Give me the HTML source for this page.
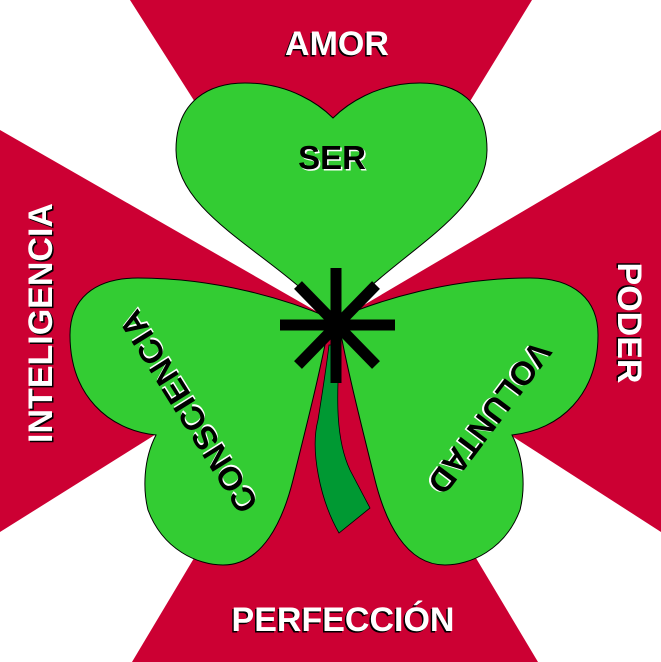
<!DOCTYPE html>
<html><head><meta charset="utf-8"><style>
html,body{margin:0;padding:0;background:#fff;}
svg{display:block;}
text{font-family:"Liberation Sans",Arial,sans-serif;font-weight:bold;}
</style></head><body>
<svg width="661" height="662" viewBox="0 0 661 662" xmlns="http://www.w3.org/2000/svg">
<rect width="661" height="662" fill="#cc0033"/>
<polygon points="0,0 130,0 335,322 0,130" fill="#fff"/>
<polygon points="661,0 532,0 335,322 661,130" fill="#fff"/>
<polygon points="0,662 0,532 335,322 132,662" fill="#fff"/>
<polygon points="661,662 661,532 335,322 538,662" fill="#fff"/>
<g fill="#33cc33" stroke="#000" stroke-width="1">
<path d="M335,325 C290,260 176,220 176,150 C176,100 210,83 245,83 C290,83 320,105 333,118 C346,105 376,83 420,83 C455,83 487,100 487,150 C487,220 380,260 335,325 Z"/>
<path d="M338,318 C380,300 450,278 530,278 C575,278 598,300 598,335 C598,395 560,430 512,435 C525,460 525,490 520,510 C505,550 470,565 445,565 C405,565 385,520 375,480 C360,420 345,360 338,318 Z"/>
<path transform="translate(668,0) scale(-1,1)" d="M338,318 C380,300 450,278 530,278 C575,278 598,300 598,335 C598,395 560,430 512,435 C525,460 525,490 520,510 C505,550 470,565 445,565 C405,565 385,520 375,480 C360,420 345,360 338,318 Z"/>
</g>
<path d="M329,345 L340,345 C336,400 336,440 350,470 L370,508 L339,533 C320,500 310,450 318,420 C322,395 326,370 329,345 Z" fill="#009933" stroke="#000" stroke-width="0.8"/>
<g stroke="#000" stroke-width="11">
<line x1="336" y1="268" x2="336" y2="383"/>
<line x1="280" y1="325" x2="395" y2="325"/>
<line x1="298" y1="285" x2="376" y2="365"/>
<line x1="376" y1="285" x2="298" y2="365"/>
</g>
<g font-size="34">
<text x="337" y="55" text-anchor="middle" fill="#000" transform="translate(-1.5,1.5)">AMOR</text>
<text x="337" y="55" text-anchor="middle" fill="#fff">AMOR</text>
<text x="343" y="631" text-anchor="middle" fill="#000" transform="translate(-1.5,1.5)">PERFECCIÓN</text>
<text x="343" y="631" text-anchor="middle" fill="#fff">PERFECCIÓN</text>
<g transform="translate(52,323) rotate(-90)"><text x="0" y="0" text-anchor="middle" fill="#000" transform="translate(-1.5,1.5)">INTELIGENCIA</text><text x="0" y="0" text-anchor="middle" fill="#fff">INTELIGENCIA</text></g>
<g transform="translate(618,323) rotate(90)"><text x="0" y="0" text-anchor="middle" fill="#000" transform="translate(-1.5,1.5)">PODER</text><text x="0" y="0" text-anchor="middle" fill="#fff">PODER</text></g>
</g>
<g font-size="33">
<text x="332" y="169" text-anchor="middle" fill="#fff" transform="translate(1.5,1.5)">SER</text>
<text x="332" y="169" text-anchor="middle" fill="#000">SER</text>
<g transform="translate(188,412) rotate(-122)"><text x="0" y="12" text-anchor="middle" fill="#fff" transform="translate(1.5,1.5)">CONSCIENCIA</text><text x="0" y="12" text-anchor="middle" fill="#000">CONSCIENCIA</text></g>
<g transform="translate(490,418) rotate(127)"><text x="0" y="12" text-anchor="middle" fill="#fff" transform="translate(1.5,1.5)">VOLUNTAD</text><text x="0" y="12" text-anchor="middle" fill="#000">VOLUNTAD</text></g>
</g>
</svg>
</body></html>
